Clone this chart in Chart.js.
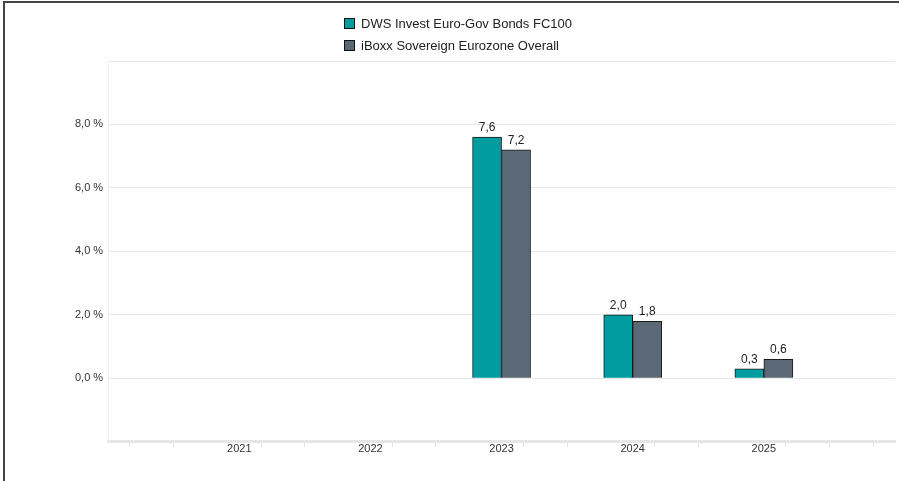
<!DOCTYPE html>
<html>
<head>
<meta charset="utf-8">
<script src="https://cdn.jsdelivr.net/npm/chart.js@4.4.1/dist/chart.umd.min.js"></script>
<style>
  html, body { margin: 0; padding: 0; background: #fff; }
  #wrap { position: relative; width: 899px; height: 481px; overflow: hidden; }
  #chart { position: absolute; left: 0; top: 0; }
  #frame { position: absolute; left: 3px; top: 1px; right: -10px; bottom: -10px;
           border-top: 2px solid #444; border-left: 2px solid #444; pointer-events: none; }
  #legend { position: absolute; left: 344px; top: 13px; font-family: "Liberation Sans", Arial, sans-serif;
            font-size: 13px; color: #222; }
  #legend .item { height: 22px; line-height: 22px; white-space: nowrap; }
  #legend .box { display: inline-block; width: 9px; height: 9px; border: 1px solid #111;
                 vertical-align: -1px; margin-right: 6px; }
</style>
</head>
<body>
<div id="wrap">
  <canvas id="chart" width="899" height="481"></canvas>
  <div id="legend"></div>
  <div id="frame"></div>
</div>
<script>
// Chart values
const years = ['2021', '2022', '2023', '2024', '2025'];
const fundValues = [null, null, 7.6, 2.0, 0.3];
const indexValues = [null, null, 7.2, 1.8, 0.6];
const seriesNames = ['DWS Invest Euro-Gov Bonds FC100', 'iBoxx Sovereign Eurozone Overall'];
const yTicksShown = [0, 2, 4, 6, 8];

// the axis has 3 minor steps per year, with one empty year on each side
const xLabels = [];
for (let i = 0; i <= 18; i++) {
    const k = i / 3 - 1;
    xLabels.push(i % 3 === 0 && years[k] !== undefined ? years[k] : '');
}

const fmt = (v) => v.toFixed(1).replace('.', ',');

const valueLabels = {
    id: 'valueLabels',
    afterDatasetsDraw(chart) {
        const ctx = chart.ctx;
        ctx.save();
        ctx.font = '12px "Liberation Sans", Arial, sans-serif';
        ctx.fillStyle = '#222';
        ctx.textAlign = 'center';
        ctx.textBaseline = 'alphabetic';
        chart.data.datasets.forEach((ds, di) => {
            const meta = chart.getDatasetMeta(di);
            meta.data.forEach((bar, i) => {
                const v = ds.data[i].y;
                if (v === null) return;
                ctx.fillText(fmt(v), bar.x, bar.y - 6);
            });
        });
        ctx.restore();
    }
};

const ctx = document.getElementById('chart').getContext('2d');
const chart = new Chart(ctx, {
    type: 'bar',
    data: {
        labels: xLabels,
        datasets: [{
            label: seriesNames[0],
            data: years.map((y, i) => ({ x: y, y: fundValues[i] })),
            backgroundColor: '#009c9f',
            borderColor: '#1a1a1a',
            borderWidth: 1,
            barThickness: 29
        }, {
            label: seriesNames[1],
            data: years.map((y, i) => ({ x: y, y: indexValues[i] })),
            backgroundColor: '#5a6975',
            borderColor: '#1a1a1a',
            borderWidth: 1,
            barThickness: 29
        }]
    },
    options: {
        responsive: false,
        animation: false,
        layout: { padding: { left: 70, right: 4, top: 61, bottom: 29 } },
        plugins: {
            legend: { display: false },
            tooltip: { enabled: false }
        },
        scales: {
            x: {
                offset: false,
                grid: {
                    drawOnChartArea: false,
                    tickLength: 5,
                    color: (c) => (c.tick && c.tick.label) ? 'rgba(0,0,0,0)' : '#e2e2e2'
                },
                border: { color: '#e6e6e6', width: 3 },
                ticks: {
                    autoSkip: false,
                    maxRotation: 0,
                    padding: -4,
                    color: '#333',
                    font: { family: '"Liberation Sans", Arial, sans-serif', size: 11 }
                }
            },
            y: {
                min: -2,
                max: 10,
                grid: { color: '#e8e8e8', drawTicks: false },
                border: { color: '#f2f2f2' },
                ticks: {
                    stepSize: 2,
                    padding: 5,
                    color: '#333',
                    font: { family: '"Liberation Sans", Arial, sans-serif', size: 11 },
                    callback: (v) => yTicksShown.includes(v) ? fmt(v) + ' %' : ''
                }
            }
        }
    },
    plugins: [valueLabels]
});

// legend stacked in two rows, built from the datasets
const legend = document.getElementById('legend');
chart.data.datasets.forEach((ds) => {
    const item = document.createElement('div');
    item.className = 'item';
    const box = document.createElement('span');
    box.className = 'box';
    box.style.background = ds.backgroundColor;
    item.appendChild(box);
    item.appendChild(document.createTextNode(ds.label));
    legend.appendChild(item);
});
</script>
</body>
</html>
